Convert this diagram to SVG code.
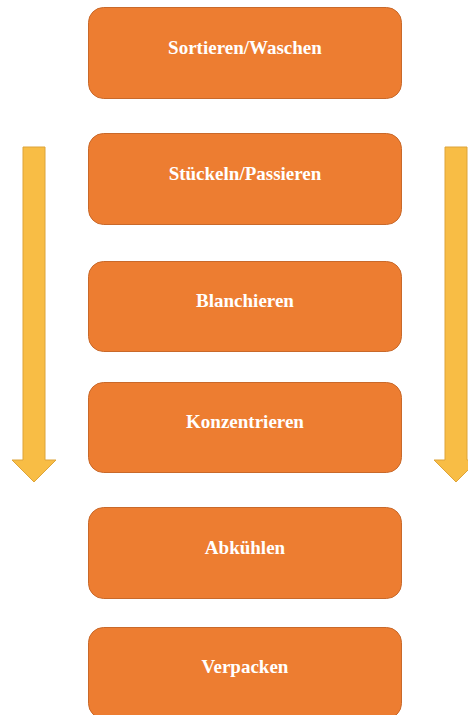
<svg xmlns="http://www.w3.org/2000/svg" width="468" height="715" viewBox="0 0 468 715">
<style>
.box{fill:#ED7D31;stroke:#C9692A;stroke-width:1}
.lbl{font-family:"Liberation Serif","Times New Roman",serif;font-size:19px;font-weight:bold;fill:#FFFFFF;text-anchor:middle}
.arr{fill:#F8BD45;stroke:#DDA43A;stroke-width:1}
</style>
<rect width="468" height="715" fill="#FFFFFF"/>
<g id="connectors">
<path class="arr" d="M23,147 H45 V460 H56 L34,482 L12,460 H23 Z"/>
<path class="arr" d="M445,147 H467 V460 H478 L456,482 L434,460 H445 Z"/>
</g>
<g id="n1"><rect class="box" x="88.5" y="7.5" width="313" height="91" rx="15"/><text class="lbl" x="245" y="54">Sortieren/Waschen</text></g>
<g id="n2"><rect class="box" x="88.5" y="133.5" width="313" height="91" rx="15"/><text class="lbl" x="245" y="180">Stückeln/Passieren</text></g>
<g id="n3"><rect class="box" x="88.5" y="261.5" width="313" height="90" rx="15"/><text class="lbl" x="245" y="307">Blanchieren</text></g>
<g id="n4"><rect class="box" x="88.5" y="382.5" width="313" height="90" rx="15"/><text class="lbl" x="245" y="428">Konzentrieren</text></g>
<g id="n5"><rect class="box" x="88.5" y="507.5" width="313" height="91" rx="15"/><text class="lbl" x="245" y="554">Abkühlen</text></g>
<g id="n6"><rect class="box" x="88.5" y="627.5" width="313" height="91" rx="15"/><text class="lbl" x="245" y="673">Verpacken</text></g>
</svg>
